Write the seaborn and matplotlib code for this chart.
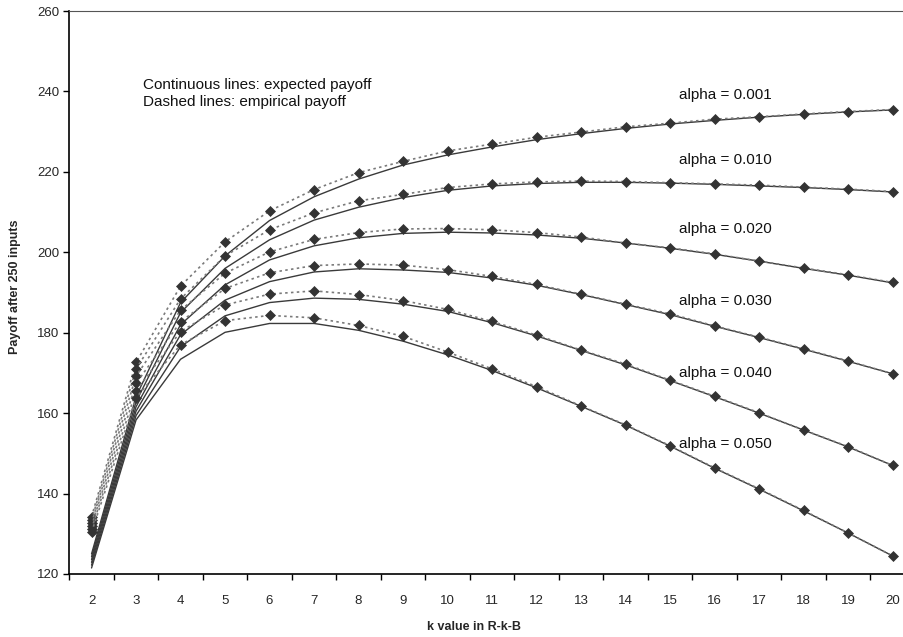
import numpy as np
import pandas as pd
import matplotlib
matplotlib.use("Agg")
import matplotlib.pyplot as plt
import seaborn as sns

k_values = list(range(2, 21))
alphas = ["0.001", "0.010", "0.020", "0.030", "0.040", "0.050"]

# expected payoff (continuous lines)
exp_001 = [125.0, 164.1, 187.5, 199.1, 207.9, 213.8, 218.2, 221.7, 224.2, 226.2, 228.0, 229.5, 230.8, 231.9, 232.8, 233.6, 234.3, 234.9, 235.4]
exp_010 = [124.3, 162.8, 185.0, 196.0, 203.1, 208.0, 211.2, 213.6, 215.4, 216.5, 217.1, 217.4, 217.4, 217.2, 216.9, 216.5, 216.1, 215.6, 215.0]
exp_020 = [123.6, 161.6, 182.0, 191.9, 198.1, 201.6, 203.6, 204.7, 205.0, 204.8, 204.3, 203.5, 202.3, 201.0, 199.5, 197.8, 196.0, 194.3, 192.4]
exp_030 = [122.9, 160.5, 179.5, 188.1, 192.7, 195.1, 195.9, 195.6, 195.0, 193.6, 191.8, 189.5, 187.0, 184.5, 181.6, 178.8, 175.9, 172.9, 169.8]
exp_040 = [122.2, 159.4, 176.5, 184.2, 187.5, 188.6, 188.3, 187.1, 185.3, 182.5, 179.2, 175.6, 172.0, 168.1, 164.1, 160.0, 155.8, 151.6, 147.0]
exp_050 = [121.5, 158.3, 173.4, 180.1, 182.3, 182.3, 180.6, 177.9, 174.5, 170.6, 166.3, 161.7, 157.0, 151.8, 146.3, 141.1, 135.7, 130.2, 124.5]

# empirical payoff (dashed lines with diamonds)
emp_001 = [134.2, 172.6, 191.6, 202.6, 210.3, 215.6, 219.8, 222.6, 225.2, 226.9, 228.6, 229.9, 231.2, 232.1, 233.1, 233.7, 234.4, 235.0, 235.5]
emp_010 = [133.4, 171.0, 188.4, 199.1, 205.6, 209.8, 212.8, 214.4, 216.1, 217.0, 217.5, 217.7, 217.6, 217.3, 217.0, 216.7, 216.2, 215.7, 215.1]
emp_020 = [132.7, 169.2, 185.6, 194.8, 200.1, 203.2, 204.9, 205.8, 205.9, 205.6, 204.9, 203.8, 202.3, 201.1, 199.6, 197.8, 196.1, 194.4, 192.5]
emp_030 = [131.9, 167.4, 182.7, 191.0, 194.9, 196.7, 197.1, 196.8, 195.7, 194.0, 192.0, 189.6, 187.1, 184.7, 181.7, 178.9, 176.0, 173.0, 169.8]
emp_040 = [131.2, 165.5, 180.3, 186.9, 189.6, 190.4, 189.5, 188.0, 185.8, 182.8, 179.4, 175.7, 172.2, 168.2, 164.2, 160.1, 155.8, 151.7, 147.0]
emp_050 = [130.4, 163.8, 177.0, 183.0, 184.3, 183.7, 181.8, 179.1, 175.2, 171.0, 166.6, 161.8, 157.1, 151.9, 146.4, 141.2, 135.8, 130.2, 124.5]

label_y = [239.1, 223.0, 205.8, 187.9, 169.9, 152.3]

expected = [exp_001, exp_010, exp_020, exp_030, exp_040, exp_050]
empirical = [emp_001, emp_010, emp_020, emp_030, emp_040, emp_050]

sns.set_style("white")
plt.rcParams['font.family'] = ['Liberation Sans', 'DejaVu Sans']

fig = plt.figure(figsize=(9.04, 6.37), dpi=100)
ax = fig.add_axes([69.3 / 904, 63 / 637, 845.5 / 904, 563 / 637])

for i, a in enumerate(alphas):
    df = pd.DataFrame({'k': k_values, 'expected': expected[i], 'empirical': empirical[i]})
    sns.lineplot(data=df, x='k', y='expected', ax=ax, color='#3a3a3a', linewidth=1.0)
    sns.lineplot(data=df, x='k', y='empirical', ax=ax, color='#7a7a7a', linewidth=1.2,
                 linestyle=(0, (1.5, 2.0)), marker='D', markersize=5,
                 markerfacecolor='#333333', markeredgecolor='#333333', markeredgewidth=0.5)
    ax.text(16.25, label_y[i], f"alpha = {a}", fontsize=11, ha='center', va='center', color='#111111')

ax.text(3.15, 239.5, "Continuous lines: expected payoff\nDashed lines: empirical payoff",
        fontsize=11, ha='left', va='center', linespacing=1.25, color='#111111')

ax.set_xlim(1.5, 20.5)
ax.set_ylim(120, 260)
ax.set_xticks(k_values)
ax.set_xticklabels([str(k) for k in k_values], fontsize=9.5)
ax.set_xticks(np.arange(1.5, 21.0, 1.0), minor=True)
ax.tick_params(axis='x', which='major', length=0, pad=15)
ax.tick_params(axis='x', which='minor', length=4, width=1, direction='out', bottom=True, color='black')
ax.set_yticks(np.arange(120, 261, 20))
ax.tick_params(axis='y', which='major', length=4, width=1, direction='out', left=True, color='black', labelsize=9.5, pad=3)

ax.set_xlabel("")
ax.set_ylabel("")
ax.spines['left'].set_color('black')
ax.spines['bottom'].set_color('black')
ax.spines['left'].set_linewidth(1.2)
ax.spines['bottom'].set_linewidth(1.2)
ax.spines['top'].set_color('#555555')
ax.spines['right'].set_visible(False)

fig.text(15 / 904, 1 - 287 / 637, "Payoff after 250 inputs", rotation=90, fontsize=9,
         fontweight='bold', ha='center', va='center')
fig.text(474 / 904, 1 - 627 / 637, "k value in R-k-B", fontsize=9,
         fontweight='bold', ha='center', va='center')

fig.savefig("out.png", dpi=100)
